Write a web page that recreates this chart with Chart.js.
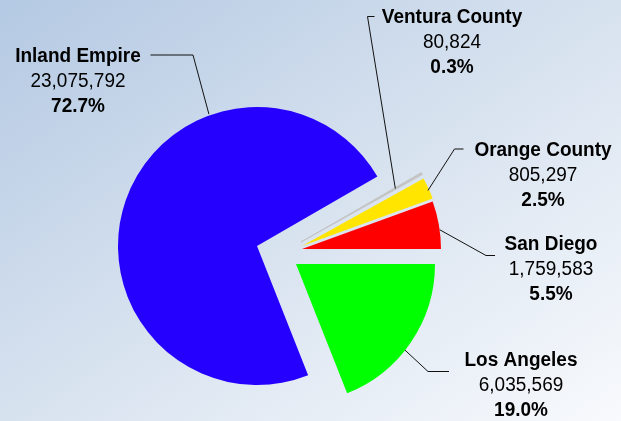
<!DOCTYPE html>
<html>
<head>
<meta charset="utf-8">
<title>Population by region</title>
<script src="https://cdn.jsdelivr.net/npm/chart.js@4.4.1/dist/chart.umd.min.js"></script>
<style>
  html, body { margin: 0; padding: 0; }
  body {
    width: 621px;
    height: 421px;
    overflow: hidden;
    background: linear-gradient(to bottom right, #b4c9e3 0%, #d7e2ef 50%, #f8fafd 100%);
  }
  #wrap { position: relative; width: 621px; height: 421px; }
</style>
</head>
<body>
<div id="wrap"><canvas id="chart" width="621" height="421"></canvas></div>
<script>
  // Slices in drawing order, clockwise from 3 o'clock
  const regions = ['Los Angeles', 'Inland Empire', 'Ventura County', 'Orange County', 'San Diego'];
  const counts = [6035569, 23075792, 80824, 805297, 1759583];

  const sliceColors = ['#00ff00', '#2600ff', '#c4c4c4', '#ffe500', '#ff0000'];
  // the sliver gets a hairline in its own colour so it stays visible
  const sliceBorders = [0, 0, 1, 0, 0];

  // Exploded slices are pulled away from the centre by these offsets (px)
  const explode = [[39, 18], [0, 0], [44, -4], [45, 0], [45, 3]];

  // Label layout: text centre x, first baseline, leader elbow and end,
  // and where the leader touches the slice (fraction along the arc, fraction of radius)
  const labelLayout = [
    { x: 521, y: 366, elbow: [428, 371.5], end: [449, 371.5], along: 0.56, depth: 1 },
    { x: 78, y: 62, elbow: [193, 55], end: [150.5, 55], along: 0.694, depth: 1.01 },
    { x: 452, y: 23, elbow: [367.5, 16.5], end: [374.5, 16.5], along: 0.5, depth: 0.78 },
    { x: 543, y: 156, elbow: [454.5, 149], end: [463.5, 149], along: 0.58, depth: 0.99 },
    { x: 551, y: 250, elbow: [486, 255.5], end: [495, 255.5], along: 0.6, depth: 1 },
  ];

  const LINE_GAP = 25;
  const TEXT_STRETCH = 1.08; // the original type is a little taller than Arial
  const FONT_FAMILY = '"Liberation Sans", Arial, Helvetica, sans-serif';

  const total = counts.reduce((a, b) => a + b, 0);

  function tallText(ctx, text, x, y) {
    ctx.save();
    ctx.translate(x, y);
    ctx.scale(1, TEXT_STRETCH);
    ctx.fillText(text, 0, 0);
    ctx.restore();
  }

  const explodePlugin = {
    id: 'explode',
    afterDatasetsUpdate(chart) {
      const area = chart.chartArea;
      const cx = (area.left + area.right) / 2;
      const cy = (area.top + area.bottom) / 2;
      chart.getDatasetMeta(0).data.forEach((arc, i) => {
        arc.x = cx + explode[i][0];
        arc.y = cy + explode[i][1];
      });
    },
  };

  const labelPlugin = {
    id: 'sliceLabels',
    afterDraw(chart) {
      const ctx = chart.ctx;
      const arcs = chart.getDatasetMeta(0).data;
      ctx.save();
      arcs.forEach((arc, i) => {
        const lay = labelLayout[i];
        const ang = arc.startAngle + (arc.endAngle - arc.startAngle) * lay.along;
        const r = arc.outerRadius * lay.depth;
        const ax = arc.x + Math.cos(ang) * r;
        const ay = arc.y + Math.sin(ang) * r;

        // leader line
        ctx.strokeStyle = '#111';
        ctx.lineWidth = 1;
        ctx.beginPath();
        ctx.moveTo(ax, ay);
        ctx.lineTo(lay.elbow[0], lay.elbow[1]);
        ctx.lineTo(lay.end[0], lay.end[1]);
        ctx.stroke();

        // three text lines: name, count, share
        ctx.fillStyle = '#000';
        ctx.textAlign = 'center';
        ctx.textBaseline = 'alphabetic';
        const pct = (counts[i] / total * 100).toFixed(1) + '%';
        ctx.font = 'bold 19px ' + FONT_FAMILY;
        tallText(ctx, regions[i], lay.x, lay.y);
        ctx.font = '19px ' + FONT_FAMILY;
        tallText(ctx, counts[i].toLocaleString('en-US'), lay.x, lay.y + LINE_GAP);
        ctx.font = 'bold 19px ' + FONT_FAMILY;
        tallText(ctx, pct, lay.x, lay.y + LINE_GAP * 2);
      });
      ctx.restore();
    },
  };

  new Chart(document.getElementById('chart'), {
    type: 'pie',
    data: {
      labels: regions,
      datasets: [{
        data: counts,
        backgroundColor: sliceColors,
        borderColor: sliceColors,
        borderWidth: sliceBorders,
        borderJoinStyle: 'miter',
        hoverOffset: 0,
        radius: 139,
      }],
    },
    options: {
      responsive: false,
      animation: false,
      events: [],
      rotation: 90,
      layout: { padding: { left: 0, right: 107, top: 71, bottom: 0 } },
      plugins: {
        legend: { display: false },
        tooltip: { enabled: false },
      },
    },
    plugins: [explodePlugin, labelPlugin],
  });
</script>
</body>
</html>
